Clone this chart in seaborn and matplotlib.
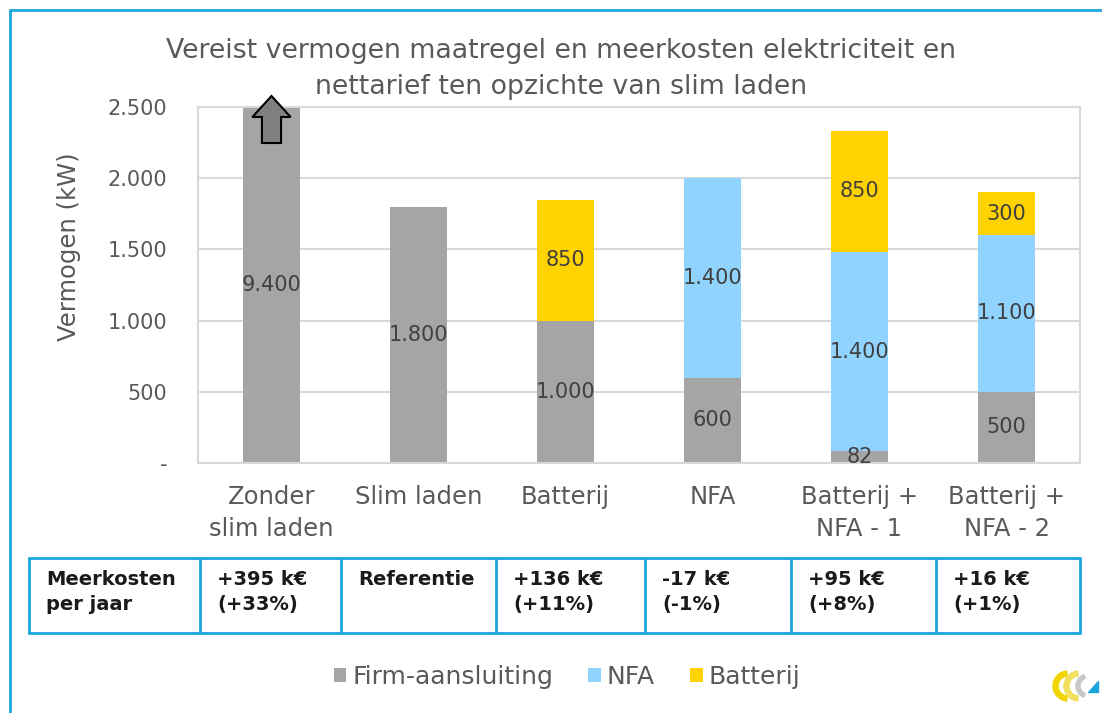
import numpy as np
import pandas as pd
import matplotlib
matplotlib.use("Agg")
import matplotlib.pyplot as plt
import seaborn as sns
from matplotlib.patches import Patch, FancyArrow, Polygon, Wedge
from matplotlib.lines import Line2D

# ---------------- data ----------------
categories = ["Zonder\nslim laden", "Slim laden", "Batterij", "NFA",
              "Batterij +\nNFA - 1", "Batterij +\nNFA - 2"]
firm = [9400, 1800, 1000, 600, 82, 500]
nfa = [0, 0, 0, 1400, 1400, 1100]
batterij = [0, 0, 850, 0, 850, 300]
series_names = ["Firm-aansluiting", "NFA", "Batterij"]
y_ticks = [0, 500, 1000, 1500, 2000, 2500]
y_tick_labels = ["-", "500", "1.000", "1.500", "2.000", "2.500"]
row_header = "Meerkosten\nper jaar"
meerkosten = ["+395 k€\n(+33%)", "Referentie", "+136 k€\n(+11%)",
              "-17 k€\n(-1%)", "+95 k€\n(+8%)", "+16 k€\n(+1%)"]
title = "Vereist vermogen maatregel en meerkosten elektriciteit en\nnettarief ten opzichte van slim laden"
y_label = "Vermogen (kW)"

# ---------------- style ----------------
sns.set_theme(style="white")
plt.rcParams["font.family"] = ["DejaVu Sans"]
colors = ["#A5A5A5", "#8FD3FE", "#FFD200"]
TXT = "#595959"
LBL = "#404040"
BLUE = "#1FA5DE"
GRID = "#D9D9D9"

W, H = 1102, 713
fig = plt.figure(figsize=(W / 100, H / 100), dpi=100)
fx = lambda px: px / W
fy = lambda py: 1 - py / H

ax = fig.add_axes([fx(198), fy(463), fx(1080) - fx(198), fy(107) - fy(463)])

df = pd.DataFrame({"cat": categories, "firm": firm, "nfa": nfa, "bat": batterij})
df["b_nfa"] = df["firm"]
df["b_bat"] = df["firm"] + df["nfa"]

bar_w = 0.39
sns.barplot(data=df, x="cat", y="firm", color=colors[0], saturation=1,
            width=bar_w, errorbar=None, ax=ax, linewidth=0, zorder=2)
sns.barplot(data=df, x="cat", y="nfa", bottom=df["b_nfa"].values, color=colors[1],
            saturation=1, width=bar_w, errorbar=None, ax=ax, linewidth=0, zorder=2)
sns.barplot(data=df, x="cat", y="bat", bottom=df["b_bat"].values, color=colors[2],
            saturation=1, width=bar_w, errorbar=None, ax=ax, linewidth=0, zorder=2)

ymax = y_ticks[-1]
ax.set_ylim(0, ymax)
ax.set_xlim(-0.5, len(categories) - 0.5)
ax.set_yticks(y_ticks)
ax.set_yticklabels(y_tick_labels)
ax.set_xlabel("")
ax.set_ylabel(y_label, fontsize=17.5, color=TXT)
ax.yaxis.set_label_coords((81 - 198) / 882, 1 - (247 - 107) / 356)
ax.tick_params(axis="y", labelsize=15, colors=TXT, length=0, pad=22)
ax.tick_params(axis="x", labelsize=17.5, colors=TXT, length=0, pad=16)
for t in ax.get_xticklabels():
    t.set_linespacing(1.42)
ax.yaxis.grid(True, color=GRID, linewidth=1.5, zorder=0)
ax.set_axisbelow(True)
for s in ax.spines.values():
    s.set_color(GRID)
    s.set_linewidth(1.5)

# data labels
for i in range(len(categories)):
    bottom = 0
    for vals in (firm, nfa, batterij):
        v = vals[i]
        if v > 0:
            top_vis = min(bottom + v, ymax)
            yc = (bottom + top_vis) / 2
            ax.text(i, yc, f"{v:,}".replace(",", "."), ha="center", va="center",
                    fontsize=15, color=LBL, zorder=4)
        bottom += v

# arrow on clipped bar
upp = ymax / (463 - 107)  # data units per pixel
ax.add_patch(FancyArrow(0, ymax - 36 * upp, 0, 47 * upp, width=0.13, head_width=0.26,
                        head_length=21 * upp, length_includes_head=True,
                        fc="#7F7F7F", ec="black", lw=1.5, clip_on=False, zorder=5))

# title
fig.text(fx(561), fy(69), title, ha="center", va="center", fontsize=19.3,
         color=TXT, linespacing=1.47)

# table
cols = [29, 200, 341, 496, 645, 791, 936, 1080]
t_top, t_bot = 558, 633
lw = 2.0
fig.add_artist(Line2D([fx(cols[0]), fx(cols[-1])], [fy(t_top)] * 2, color=BLUE, lw=lw))
fig.add_artist(Line2D([fx(cols[0]), fx(cols[-1])], [fy(t_bot)] * 2, color=BLUE, lw=lw))
for c in cols:
    fig.add_artist(Line2D([fx(c)] * 2, [fy(t_top), fy(t_bot)], color=BLUE, lw=lw))
cells = [row_header] + meerkosten
for j, txt in enumerate(cells):
    fig.text(fx(cols[j] + 17), fy(t_top + 12), txt, ha="left", va="top",
             fontsize=14, fontweight="bold", color="#1A1A1A", linespacing=1.42)

# legend
handles = [Patch(facecolor=c, edgecolor="none") for c in colors]
fig.legend(handles, series_names, loc="center", bbox_to_anchor=(fx(567), fy(677)),
           ncol=3, frameon=False, fontsize=18, handlelength=0.5, handleheight=0.5,
           handletextpad=0.25, columnspacing=1.4, labelcolor=TXT)

# frame lines
fig.add_artist(Line2D([fx(9.5), 1], [fy(9.5)] * 2, color=BLUE, lw=2))
fig.add_artist(Line2D([fx(9.5)] * 2, [fy(9.5), 0], color=BLUE, lw=2))

# small logo
lax = fig.add_axes([fx(1050), fy(708), fx(50), fy(660) - fy(708)])
lax.set_xlim(0, 50); lax.set_ylim(0, 48); lax.axis("off")
lax.add_patch(Wedge((18, 22), 15, 95, 265, width=5, color="#F2D500"))
lax.add_patch(Wedge((29, 22), 15, 95, 265, width=5, color="#F2E060"))
lax.add_patch(Wedge((38, 22), 12, 110, 250, width=4, color="#C8C8C8"))
lax.add_patch(Polygon([[38, 16], [48, 16], [48, 27]], color="#1FA5DE"))

fig.savefig("out.png", dpi=100)
